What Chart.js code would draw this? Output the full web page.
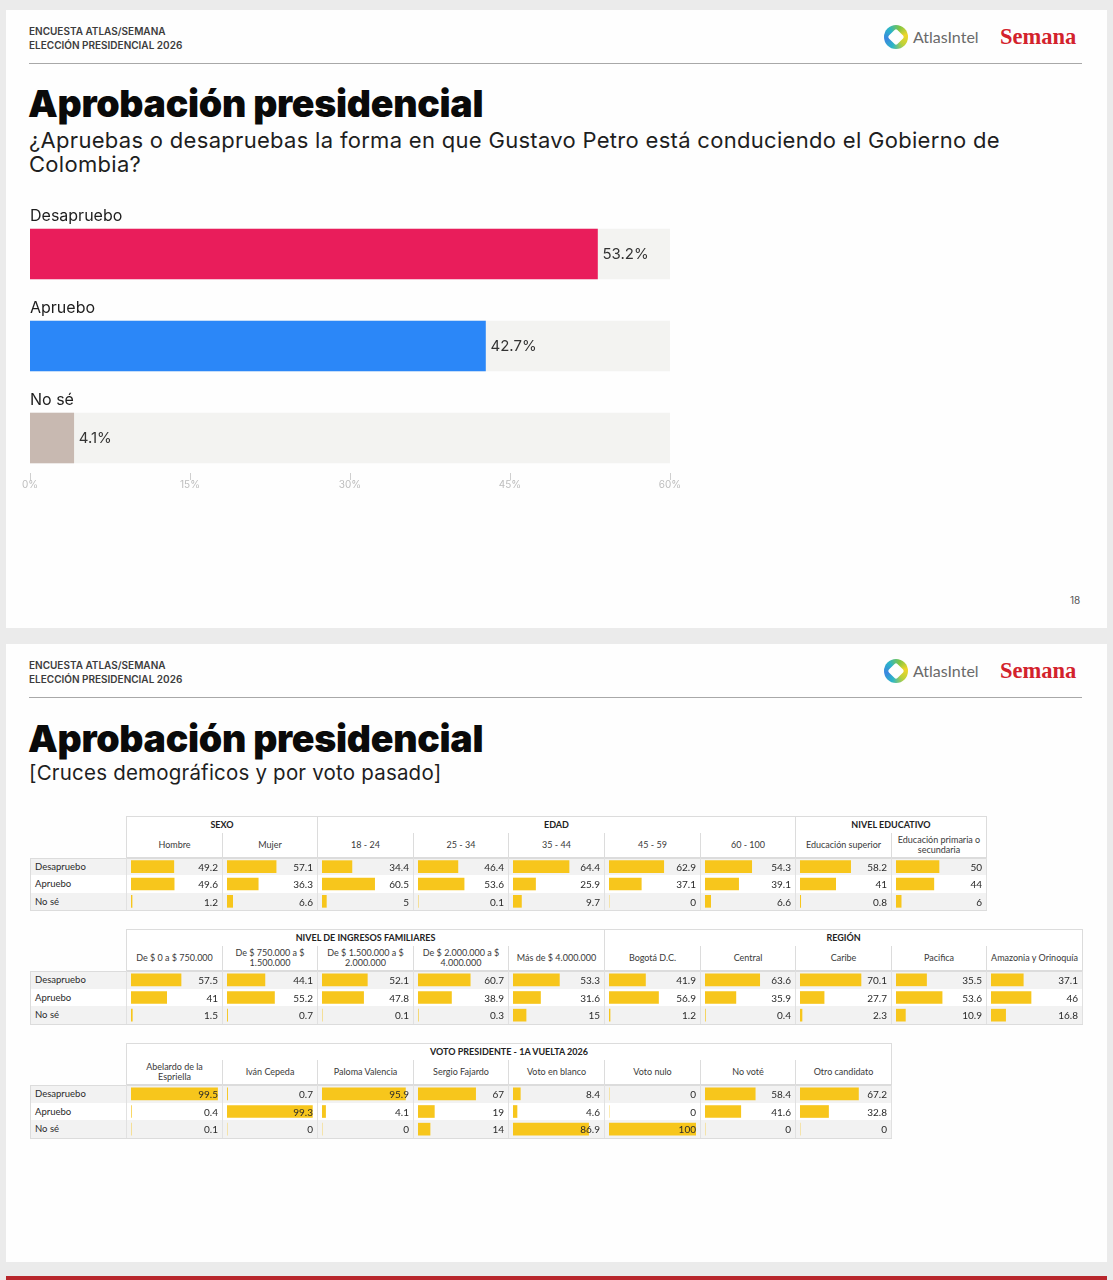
<!DOCTYPE html>
<html><head><meta charset="utf-8">
<script src="https://cdn.jsdelivr.net/npm/chart.js@4.4.1/dist/chart.umd.min.js"></script>
<style>
html,body{margin:0;padding:0;}
body{width:1113px;height:1280px;background:#ebebeb;position:relative;overflow:hidden;font-family:Lato,"Noto Sans",sans-serif;}
.abs{position:absolute;}
.slide{position:absolute;left:6px;width:1101px;background:#fefefe;}
.hdr{font-family:Inter,sans-serif;font-weight:600;font-size:10px;line-height:14px;color:#3c3c3c;letter-spacing:0px;}
.rule{position:absolute;left:29px;width:1053px;height:1px;background:#a8a8a8;}
.title{font-family:Inter,sans-serif;font-weight:900;font-size:37.5px;line-height:40px;color:#0a0a0a;letter-spacing:-0.3px;white-space:nowrap;}
.sub{font-family:Inter,sans-serif;font-weight:400;font-size:22px;line-height:24px;color:#1e1e1e;white-space:nowrap;letter-spacing:0.3px;}
.sub2{font-family:Inter,sans-serif;font-weight:400;font-size:20.5px;line-height:24px;color:#1e1e1e;white-space:nowrap;letter-spacing:0.2px;}
.atlas{font-family:Lato,sans-serif;font-size:16px;color:#6a6a6a;line-height:20px;}
.semana{font-family:"Liberation Serif",serif;font-weight:700;font-size:22.5px;color:#d3222c;line-height:24px;}
.icon{width:24px;height:24px;border-radius:50%;background:conic-gradient(from 200deg,#2bb6c7,#3b86e0,#2bb6c7,#7fc545,#f1d629,#b9d13a,#2bb6c7);}
.icon:after{content:"";position:absolute;left:6px;top:6px;width:12px;height:12px;background:#fefefe;transform:rotate(45deg);border-radius:2px;}
.cell{position:absolute;box-sizing:border-box;display:flex;align-items:center;justify-content:center;text-align:center;font-size:9px;line-height:10px;color:#3a3a3a;z-index:3;}
.grp{font-weight:700;color:#222;border:1px solid #dcdcdc;background:#fff;}
.colh{border:1px solid #dcdcdc;border-top:none;background:#fff;padding:0 2px;}
.rowbg{position:absolute;z-index:1;}
.rl{position:absolute;font-size:9.5px;line-height:12px;color:#2a2a2a;z-index:3;}
.val{position:absolute;font-size:10px;line-height:12px;color:#2a2a2a;text-align:right;z-index:3;}
.vline{position:absolute;width:1px;background:#e1e1e1;z-index:2;}
.frame{position:absolute;box-sizing:border-box;border:1px solid #dcdcdc;z-index:2;}
canvas.mini{position:absolute;z-index:2;}
</style></head>
<body>
<div class="slide" style="top:10px;height:618px;"></div>
<div class="slide" style="top:644px;height:618px;"></div>
<div class="abs" style="left:6px;top:1276px;width:1101px;height:4px;background:#b8262c;"></div>

<!-- slide 1 header -->
<div class="abs hdr" style="left:29px;top:24px;">ENCUESTA ATLAS/SEMANA<br>ELECCIÓN PRESIDENCIAL 2026</div>
<div class="rule" style="top:63px;"></div>
<div class="abs icon" style="left:884px;top:25px;"></div>
<div class="abs atlas" style="left:913px;top:27px;">AtlasIntel</div>
<div class="abs semana" style="left:1000px;top:25px;">Semana</div>
<div class="abs title" style="left:28px;top:84px;">Aprobación presidencial</div>
<div class="abs sub" style="left:29px;top:128px;">¿Apruebas o desapruebas la forma en que Gustavo Petro está conduciendo el Gobierno de<br>Colombia?</div>
<canvas id="main" class="abs" width="700" height="310" style="left:0px;top:190px;width:700px;height:310px;"></canvas>
<div class="abs" style="left:1070px;top:594px;font-family:Inter,sans-serif;font-size:10px;color:#555;">18</div>

<!-- slide 2 header -->
<div class="abs hdr" style="left:29px;top:658px;">ENCUESTA ATLAS/SEMANA<br>ELECCIÓN PRESIDENCIAL 2026</div>
<div class="rule" style="top:697px;"></div>
<div class="abs icon" style="left:884px;top:659px;"></div>
<div class="abs atlas" style="left:913px;top:661px;">AtlasIntel</div>
<div class="abs semana" style="left:1000px;top:659px;">Semana</div>
<div class="abs title" style="left:28px;top:719px;">Aprobación presidencial</div>
<div class="abs sub2" style="left:29px;top:761px;">[Cruces demográficos y por voto pasado]</div>

<script>
// ---------- DATA ----------
const mainLabels = ['Desapruebo', 'Apruebo', 'No sé'];
const mainValues = [53.2, 42.7, 4.1];
const mainColors = ['#e91d5b', '#2b87f8', '#c8b9b1'];
const mainTicks = [0, 15, 30, 45, 60];

const rowLabels = ['Desapruebo', 'Apruebo', 'No sé'];

const t1Groups = [['SEXO', 2], ['EDAD', 5], ['NIVEL EDUCATIVO', 2]];
const t1Cols = ['Hombre', 'Mujer', '18 - 24', '25 - 34', '35 - 44', '45 - 59', '60 - 100', 'Educación superior', 'Educación primaria o secundaria'];
const t1Desapruebo = [49.2, 57.1, 34.4, 46.4, 64.4, 62.9, 54.3, 58.2, 50];
const t1Apruebo = [49.6, 36.3, 60.5, 53.6, 25.9, 37.1, 39.1, 41, 44];
const t1NoSe = [1.2, 6.6, 5, 0.1, 9.7, 0, 6.6, 0.8, 6];

const t2Groups = [['NIVEL DE INGRESOS FAMILIARES', 5], ['REGIÓN', 5]];
const t2Cols = ['De $ 0 a $ 750.000', 'De $ 750.000 a $ 1.500.000', 'De $ 1.500.000 a $ 2.000.000', 'De $ 2.000.000 a $ 4.000.000', 'Más de $ 4.000.000', 'Bogotá D.C.', 'Central', 'Caribe', 'Pacifica', 'Amazonia y Orinoquía'];
const t2Desapruebo = [57.5, 44.1, 52.1, 60.7, 53.3, 41.9, 63.6, 70.1, 35.5, 37.1];
const t2Apruebo = [41, 55.2, 47.8, 38.9, 31.6, 56.9, 35.9, 27.7, 53.6, 46];
const t2NoSe = [1.5, 0.7, 0.1, 0.3, 15, 1.2, 0.4, 2.3, 10.9, 16.8];

const t3Groups = [['VOTO PRESIDENTE - 1A VUELTA 2026', 8]];
const t3Cols = ['Abelardo de la Espriella', 'Iván Cepeda', 'Paloma Valencia', 'Sergio Fajardo', 'Voto en blanco', 'Voto nulo', 'No voté', 'Otro candidato'];
const t3Desapruebo = [99.5, 0.7, 95.9, 67, 8.4, 0, 58.4, 67.2];
const t3Apruebo = [0.4, 99.3, 4.1, 19, 4.6, 0, 41.6, 32.8];
const t3NoSe = [0.1, 0, 0, 14, 86.9, 100, 0, 0];

// ---------- MAIN BAR CHART ----------
const labelPlugin = {
  id: 'labelPlugin',
  afterDatasetsDraw(chart) {
    const ctx = chart.ctx;
    const meta = chart.getDatasetMeta(1);
    ctx.save();
    meta.data.forEach((bar, i) => {
      ctx.fillStyle = '#1e1e1e';
      ctx.font = '400 16px Inter';
      ctx.textBaseline = 'middle';
      ctx.textAlign = 'left';
      ctx.fillText(chart.data.labels[i], chart.chartArea.left, bar.y - 38);
      ctx.font = '400 15px Inter';
      ctx.fillStyle = '#333';
      ctx.fillText(mainValues[i].toFixed(1) + '%', bar.x + 5, bar.y);
    });
    const xs = chart.scales.x;
    const b = chart.chartArea.bottom;
    ctx.strokeStyle = '#cfcfcf';
    ctx.lineWidth = 1;
    ctx.fillStyle = '#bdbdbd';
    ctx.font = '400 10px Inter';
    ctx.textAlign = 'center';
    ctx.textBaseline = 'middle';
    mainTicks.forEach(v => {
      const px = xs.getPixelForValue(v);
      const x = Math.round(px) + 0.5;
      ctx.beginPath();
      ctx.moveTo(x, b - 11);
      ctx.lineTo(x, b - 4);
      ctx.stroke();
      ctx.fillText(v + '%', px, b + 1);
    });
    ctx.restore();
  }
};

new Chart(document.getElementById('main'), {
  type: 'bar',
  data: {
    labels: mainLabels,
    datasets: [
      { data: mainLabels.map(() => 60), backgroundColor: '#f3f3f1', barThickness: 50, grouped: false, order: 2 },
      { data: mainValues, backgroundColor: mainColors, barThickness: 50, grouped: false, order: 1 }
    ]
  },
  options: {
    indexAxis: 'y',
    responsive: false,
    animation: false,
    events: [],
    layout: { padding: { left: 30, right: 30, top: 18, bottom: 0 } },
    plugins: { legend: { display: false }, tooltip: { enabled: false } },
    scales: {
      y: { display: false },
      x: {
        min: 0, max: 60,
        afterBuildTicks: s => { s.ticks = mainTicks.map(v => ({ value: v })); },
        afterFit: s => { s.height = 16; s.paddingLeft = 0; s.paddingRight = 0; },
        grid: { display: false, drawTicks: false },
        border: { display: false },
        ticks: { display: false }
      }
    }
  },
  plugins: [labelPlugin]
});

// ---------- TABLES ----------
const L = 30, LW = 96, CW = 95.6;
function add(cls, x, y, w, h, html) {
  const d = document.createElement('div');
  d.className = cls;
  d.style.left = x + 'px'; d.style.top = y + 'px';
  if (w != null) d.style.width = w + 'px';
  if (h != null) d.style.height = h + 'px';
  if (html != null) d.innerHTML = html;
  document.body.appendChild(d);
  return d;
}
function miniChart(x, y, w, h, vals) {
  const c = document.createElement('canvas');
  c.className = 'mini';
  c.width = w; c.height = h;
  c.style.left = x + 'px'; c.style.top = y + 'px';
  c.style.width = w + 'px'; c.style.height = h + 'px';
  document.body.appendChild(c);
  new Chart(c, {
    type: 'bar',
    data: { labels: rowLabels, datasets: [{ data: vals, backgroundColor: '#f7c61c', barThickness: 12, borderWidth: 0 }] },
    options: {
      indexAxis: 'y', responsive: false, animation: false, events: [],
      layout: { padding: { left: 4, right: 4, top: 0, bottom: 0 } },
      plugins: { legend: { display: false }, tooltip: { enabled: false } },
      scales: { x: { display: false, min: 0, max: 100 }, y: { display: false } }
    }
  });
}
function buildTable(top, groups, cols, series, groupH, subH, rowsH) {
  const right = L + LW + cols.length * CW;
  let gx = L + LW;
  groups.forEach(([name, n]) => {
    add('cell grp', Math.round(gx), top, Math.round(gx + n * CW) - Math.round(gx) + 1, groupH, name);
    gx += n * CW;
  });
  cols.forEach((c, i) => {
    const x0 = Math.round(L + LW + i * CW), x1 = Math.round(L + LW + (i + 1) * CW);
    add('cell colh', x0, top + groupH - 1, x1 - x0 + 1, subH + 1, c);
  });
  const rTop = top + groupH + subH;
  const rh = rowsH / 3;
  rowLabels.forEach((r, ri) => {
    const y0 = Math.round(rTop + ri * rh), y1 = Math.round(rTop + (ri + 1) * rh);
    const bg = add('rowbg', L, y0, Math.round(right) - L, y1 - y0);
    bg.style.background = ri === 1 ? '#ffffff' : '#f2f2f2';
    add('rl', L + 5, y0 + (y1 - y0 - 12) / 2, null, null, r);
    cols.forEach((c, i) => {
      const x1 = Math.round(L + LW + (i + 1) * CW);
      add('val', x1 - 64, y0 + (y1 - y0 - 12) / 2, 60, null, String(series[ri][i]));
    });
  });
  add('frame', L, rTop, Math.round(right) - L + 1, Math.round(rowsH) + 1);
  for (let i = 0; i <= cols.length; i++) {
    add('vline', Math.round(L + LW + i * CW), rTop, null, Math.round(rowsH));
  }
  cols.forEach((c, i) => {
    const x0 = Math.round(L + LW + i * CW), x1 = Math.round(L + LW + (i + 1) * CW);
    miniChart(x0 + 1, Math.round(rTop), x1 - x0 - 1, Math.round(rowsH), [series[0][i], series[1][i], series[2][i]]);
  });
}
buildTable(816, t1Groups, t1Cols, [t1Desapruebo, t1Apruebo, t1NoSe], 18, 24, 52);
buildTable(929, t2Groups, t2Cols, [t2Desapruebo, t2Apruebo, t2NoSe], 18, 24, 53);
buildTable(1043, t3Groups, t3Cols, [t3Desapruebo, t3Apruebo, t3NoSe], 18, 24, 53);
</script>
</body></html>
